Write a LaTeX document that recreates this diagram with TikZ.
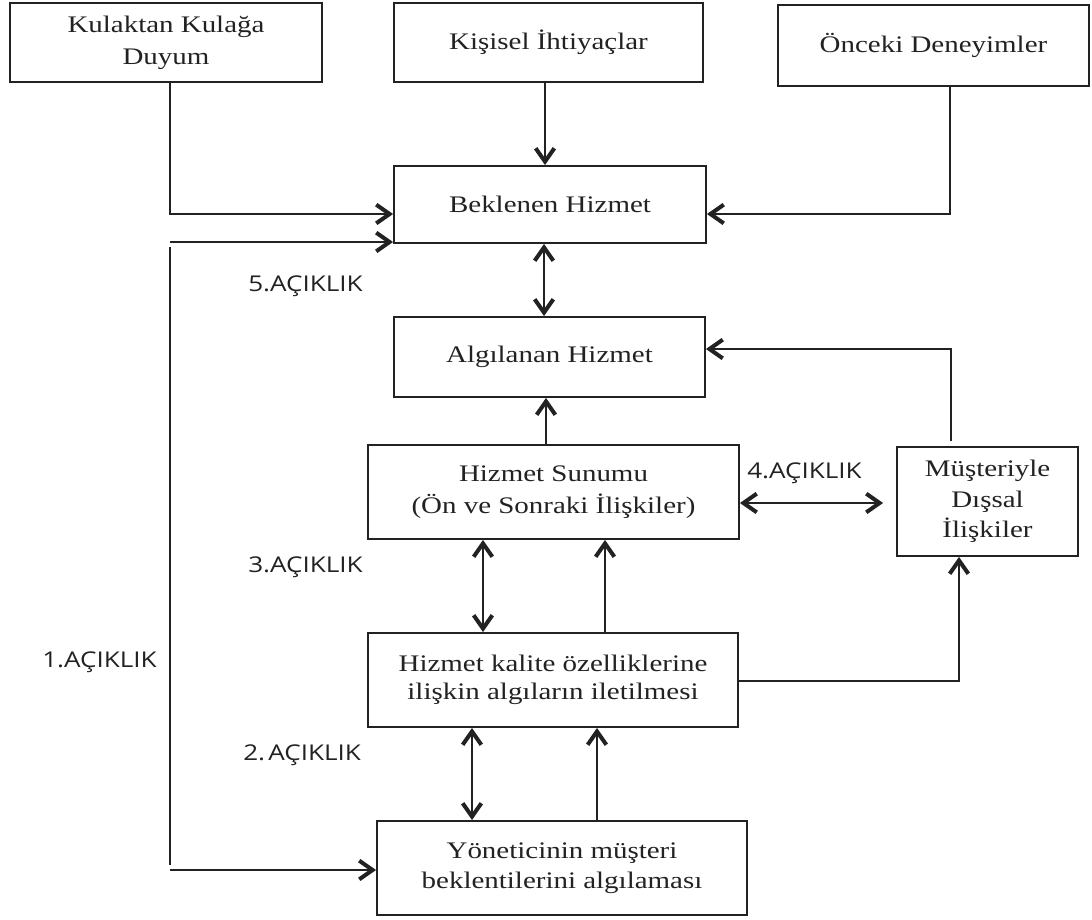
\documentclass[tikz,border=0pt]{standalone}
\usepackage{fontspec}
\setmainfont{Liberation Serif}[FakeStretch=1.22]
\newfontfamily\labfont{Open Sans}[FakeStretch=1.2]
\usetikzlibrary{arrows.meta}
\definecolor{ink}{HTML}{222222}
\begin{document}
\begin{tikzpicture}[x=0.75pt,y=-0.75pt,
 box/.style={draw=ink, line width=1.4pt, text=ink, inner sep=0pt, align=center, font=\fontsize{17.8pt}{24pt}\selectfont},
 lab/.style={text=ink, inner sep=0pt, anchor=base west, font=\labfont\fontsize{16.3pt}{20pt}\selectfont},
 conn/.style={draw=ink, line width=1.4pt},
 tipb/.style={},
 arr/.style={conn, -{Straight Barb[length=10pt,width=14pt,line width'=3pt]}},
 darr/.style={conn, {Straight Barb[length=10pt,width=14pt,line width'=3pt]}-{Straight Barb[length=10pt,width=14pt,line width'=3pt]}},
]
\fill[white] (0,0) rectangle (1092,920);
\useasboundingbox (0,0) rectangle (1092,920);

% boxes
\node[box, minimum width=234pt, minimum height=59.25pt] (kul) at (166,42.5) {Kulaktan Kulağa\\Duyum};
\node[box, minimum width=231.75pt, minimum height=59.25pt] (kis) at (548.5,42.5) {Kişisel İhtiyaçlar};
\node[box, minimum width=233.25pt, minimum height=60.75pt] (onc) at (933.5,45.5) {Önceki Deneyimler};
\node[box, minimum width=234pt, minimum height=57.75pt] (bek) at (550,204.5) {Beklenen Hizmet};
\node[box, minimum width=233.25pt, minimum height=60pt] (alg) at (549.5,357) {Algılanan Hizmet};
\node[box, minimum width=278.25pt, minimum height=70.5pt] (sun) at (553.5,492) {Hizmet Sunumu\\(Ön ve Sonraki İlişkiler)};
\node[box, minimum width=135.75pt, minimum height=81.75pt, font=\fontsize{17.8pt}{23pt}\selectfont] (mus) at (987.5,501.5) {Müşteriyle\\Dışsal\\İlişkiler};
\node[box, minimum width=277.5pt, minimum height=70.5pt, font=\fontsize{17.8pt}{21pt}\selectfont] (kal) at (553,680) {Hizmet kalite özelliklerine\\ilişkin algıların iletilmesi};
\node[box, minimum width=277.5pt, minimum height=70.5pt, font=\fontsize{17.8pt}{22.5pt}\selectfont] (yon) at (562,868) {Yöneticinin müşteri\\beklentilerini algılaması};

% gap labels
\node[lab] (g5) at (248,291) {5.AÇIKLIK};
\node[lab] (g4) at (747,478) {4.AÇIKLIK};
\node[lab] (g3) at (248,572) {3.AÇIKLIK};
\node[lab] (g1) at (42,667) {1.AÇIKLIK};
\node[lab] (g2) at (243,760) {2.\hspace{0.15em}AÇIKLIK};

% connectors
\coordinate (p1) at (170,214);
\draw[arr] (kul.south -| p1) |- (bek.west |- p1);
\coordinate (p2) at (545,0);
\draw[arr] (kis.south -| p2) -- (bek.north -| p2);
\coordinate (p3) at (950,214);
\draw[arr] (onc.south -| p3) |- (bek.east |- p3);
\coordinate (p4) at (544,0);
\draw[darr] (bek.south -| p4) -- (alg.north -| p4);

\coordinate (q1) at (170,242);
\coordinate (q2) at (170,247);
\coordinate (q3) at (170,865);
\coordinate (q4) at (170,870);
\draw[arr] (q1) -- (bek.west |- q1);
\draw[conn] (q2) -- (q3);
\draw[arr] (q4) -- (yon.west |- q4);

\coordinate (p5) at (546,0);
\draw[arr] (sun.north -| p5) -- (alg.south -| p5);
\coordinate (p6) at (951,349);
\coordinate (m1) at (951,441);
\draw[arr] (m1) |- (alg.east |- p6);

\coordinate (p7) at (0,503);
\draw[darr, shorten >=9.75pt] (sun.east |- p7) -- (mus.west |- p7);

\coordinate (p8) at (483,0);
\draw[darr] (sun.south -| p8) -- (kal.north -| p8);
\coordinate (p9) at (605,0);
\draw[arr] (kal.north -| p9) -- (sun.south -| p9);
\coordinate (p10) at (959,681);
\draw[arr] (kal.east |- p10) -| (mus.south -| p10);
\coordinate (p11) at (472,0);
\draw[darr] (kal.south -| p11) -- (yon.north -| p11);
\coordinate (p12) at (597,0);
\draw[arr] (yon.north -| p12) -- (kal.south -| p12);
\end{tikzpicture}
\end{document}
